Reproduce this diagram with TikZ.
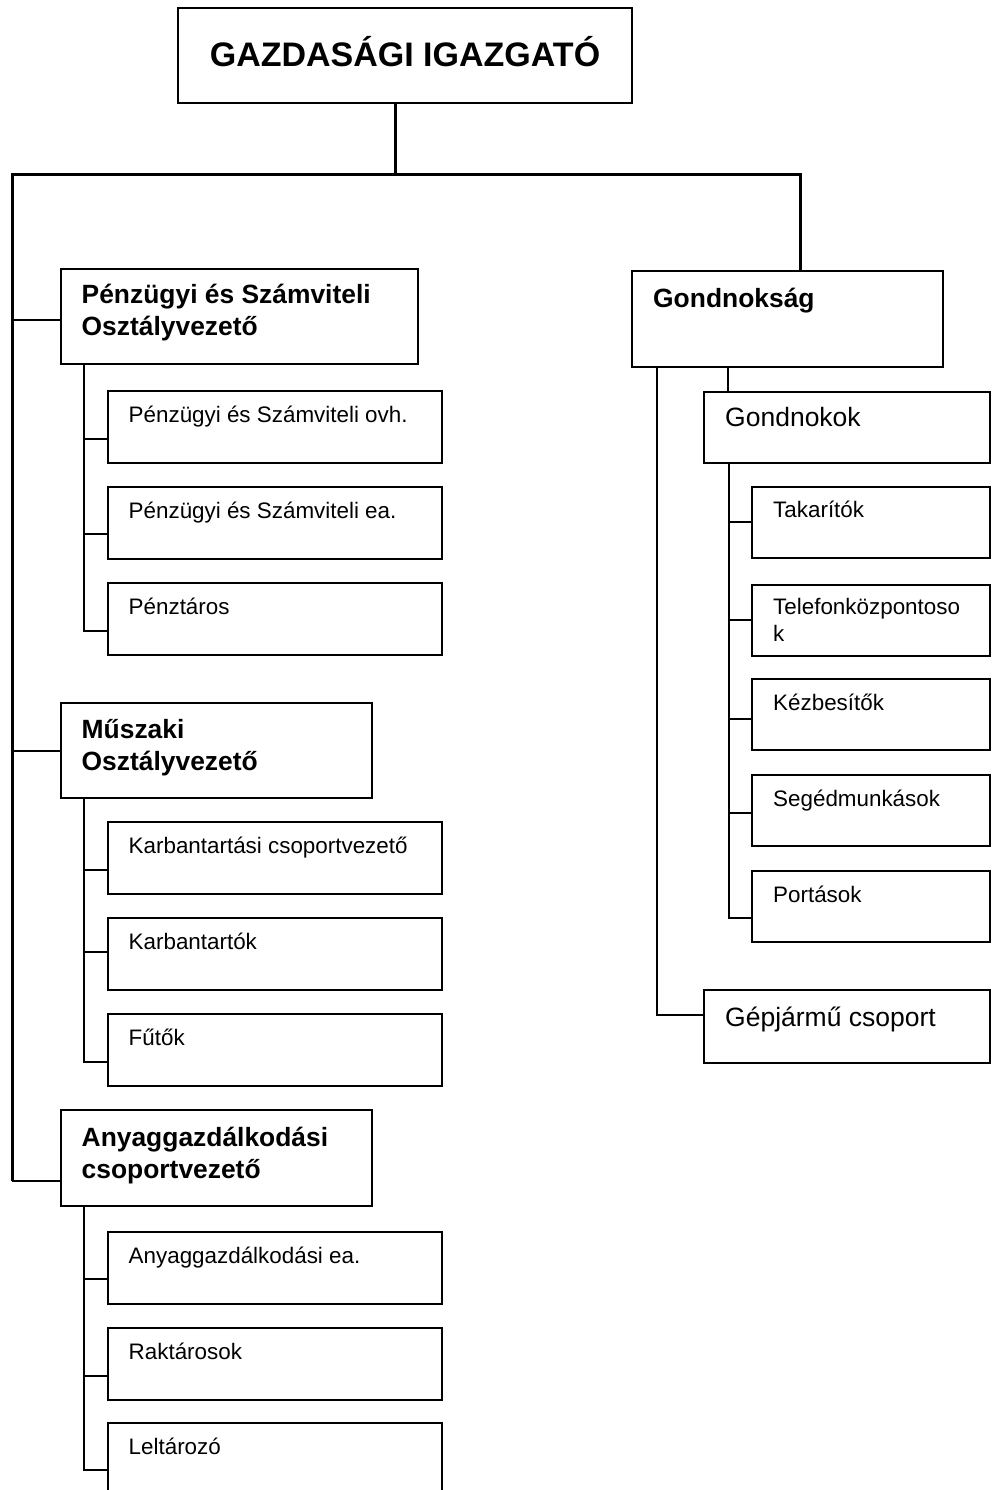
\documentclass[tikz,border=0pt]{standalone}
\usepackage{fontspec}
\setmainfont{Liberation Sans}
\newcommand\twoln[2]{\vtop{\hbox{#1}\hbox{#2}}}
\begin{document}
\begin{tikzpicture}[x=1pt,y=-1pt,
  box/.style={draw, line width=2pt, rectangle, inner sep=0pt, outer sep=0pt, anchor=north west},
  cbox/.style={box, minimum width=334, minimum height=72},
  rbox/.style={box, minimum width=238, minimum height=71},
  main/.style={line width=3pt},
  conn/.style={line width=2pt},
  thinc/.style={line width=1.5pt},
  lbl/.style={anchor=base west, inner sep=0pt, font=\fontsize{22.4}{27}\selectfont},
  hdr/.style={anchor=base west, inner sep=0pt, font=\fontsize{26.4}{32}\selectfont\bfseries},
  big/.style={anchor=base west, inner sep=0pt, font=\fontsize{26.5}{32}\selectfont}]
\useasboundingbox (0,0) rectangle (992,1490);
\clip (0,0) rectangle (992,1490);
\fill[white] (0,0) rectangle (992,1490);

% top
\node[box, minimum width=454, minimum height=95, text height=23, text depth=0pt,
  font=\fontsize{34}{40}\selectfont\bfseries] (top) at (178,8) {GAZDASÁGI IGAZGATÓ};

% level 1 boxes
\node[box, minimum width=357, minimum height=95] (b1) at (61,269) {};
\node[hdr] (b1t) at ([shift={(20.5,34.5)}]b1.north west) {\twoln{Pénzügyi és Számviteli}{Osztályvezető}};
\node[box, minimum width=311, minimum height=95] (b2) at (61,703) {};
\node[hdr] (b2t) at ([shift={(20.5,35)}]b2.north west) {\twoln{Műszaki}{Osztályvezető}};
\node[box, minimum width=311, minimum height=96] (b3) at (61,1110) {};
\node[hdr] (b3t) at ([shift={(20.5,36)}]b3.north west) {\twoln{Anyaggazdálkodási}{csoportvezető}};
\node[box, minimum width=311, minimum height=96] (gond) at (632,271) {};
\node[hdr] (gondt) at ([shift={(21,36.5)}]gond.north west) {Gondnokság};

% left children
\node[cbox] (p1) at (108,391) {};
\node[lbl] at ([shift={(20.5,31)}]p1.north west) {Pénzügyi és Számviteli ovh.};
\node[cbox] (p2) at (108,487) {};
\node[lbl] at ([shift={(20.5,31)}]p2.north west) {Pénzügyi és Számviteli ea.};
\node[cbox] (p3) at (108,583) {};
\node[lbl] at ([shift={(20.5,31)}]p3.north west) {Pénztáros};

\node[cbox] (m1) at (108,822) {};
\node[lbl] at ([shift={(20.5,31)}]m1.north west) {Karbantartási csoportvezető};
\node[cbox] (m2) at (108,918) {};
\node[lbl] at ([shift={(20.5,31)}]m2.north west) {Karbantartók};
\node[cbox] (m3) at (108,1014) {};
\node[lbl] at ([shift={(20.5,31)}]m3.north west) {Fűtők};

\node[cbox] (a1) at (108,1232) {};
\node[lbl] at ([shift={(20.5,31)}]a1.north west) {Anyaggazdálkodási ea.};
\node[cbox] (a2) at (108,1328) {};
\node[lbl] at ([shift={(20.5,31)}]a2.north west) {Raktárosok};
\node[cbox] (a3) at (108,1423) {};
\node[lbl] at ([shift={(20.5,31)}]a3.north west) {Leltározó};

% right children
\node[box, minimum width=286, minimum height=71] (gk) at (704,392) {};
\node[big] at ([shift={(21,34)}]gk.north west) {Gondnokok};
\node[rbox] (r1) at (752,487) {};
\node[lbl] at ([shift={(21,30.5)}]r1.north west) {Takarítók};
\node[rbox] (r2) at (752,585) {};
\node[lbl] at ([shift={(21,29)}]r2.north west) {\twoln{Telefonközpontoso}{k}};
\node[rbox] (r3) at (752,679) {};
\node[lbl] at ([shift={(21,31)}]r3.north west) {Kézbesítők};
\node[rbox] (r4) at (752,775) {};
\node[lbl] at ([shift={(21,31)}]r4.north west) {Segédmunkások};
\node[rbox] (r5) at (752,871) {};
\node[lbl] at ([shift={(21,31)}]r5.north west) {Portások};
\node[box, minimum width=286, minimum height=73] (gep) at (704,990) {};
\node[big] at ([shift={(21,36)}]gep.north west) {Gépjármű csoport};

% main tree
\draw[main] (top.south -| 395,0) -- (395,175);
\draw[main] (12,1181) -- (12,175) -- (800,175) -- (gond.north -| 800,0);
\draw[thinc] (12,320) -- (b1.west |- 0,320);
\draw[thinc] (12,751) -- (b2.west |- 0,751);
\draw[thinc] (12,1181) -- (b3.west |- 0,1181);

% left child connectors
\draw[conn] (b1.south -| 84,0) -- (84,631) -- (p3.west |- 0,631);
\draw[conn] (84,439) -- (p1.west |- 0,439);
\draw[conn] (84,534) -- (p2.west |- 0,534);

\draw[conn] (b2.south -| 84,0) -- (84,1062) -- (m3.west |- 0,1062);
\draw[conn] (84,870) -- (m1.west |- 0,870);
\draw[conn] (84,952) -- (m2.west |- 0,952);

\draw[conn] (b3.south -| 84,0) -- (84,1470) -- (a3.west |- 0,1470);
\draw[conn] (84,1279) -- (a1.west |- 0,1279);
\draw[conn] (84,1376) -- (a2.west |- 0,1376);

% right connectors
\draw[conn] (gond.south -| 657,0) -- (657,1015) -- (gep.west |- 0,1015);
\draw[conn] (gond.south -| 728,0) -- (gk.north -| 728,0);
\draw[conn] (gk.south -| 729,0) -- (729,918) -- (r5.west |- 0,918);
\draw[conn] (729,522) -- (r1.west |- 0,522);
\draw[conn] (729,620) -- (r2.west |- 0,620);
\draw[conn] (729,719) -- (r3.west |- 0,719);
\draw[conn] (729,813) -- (r4.west |- 0,813);
\end{tikzpicture}
\end{document}
